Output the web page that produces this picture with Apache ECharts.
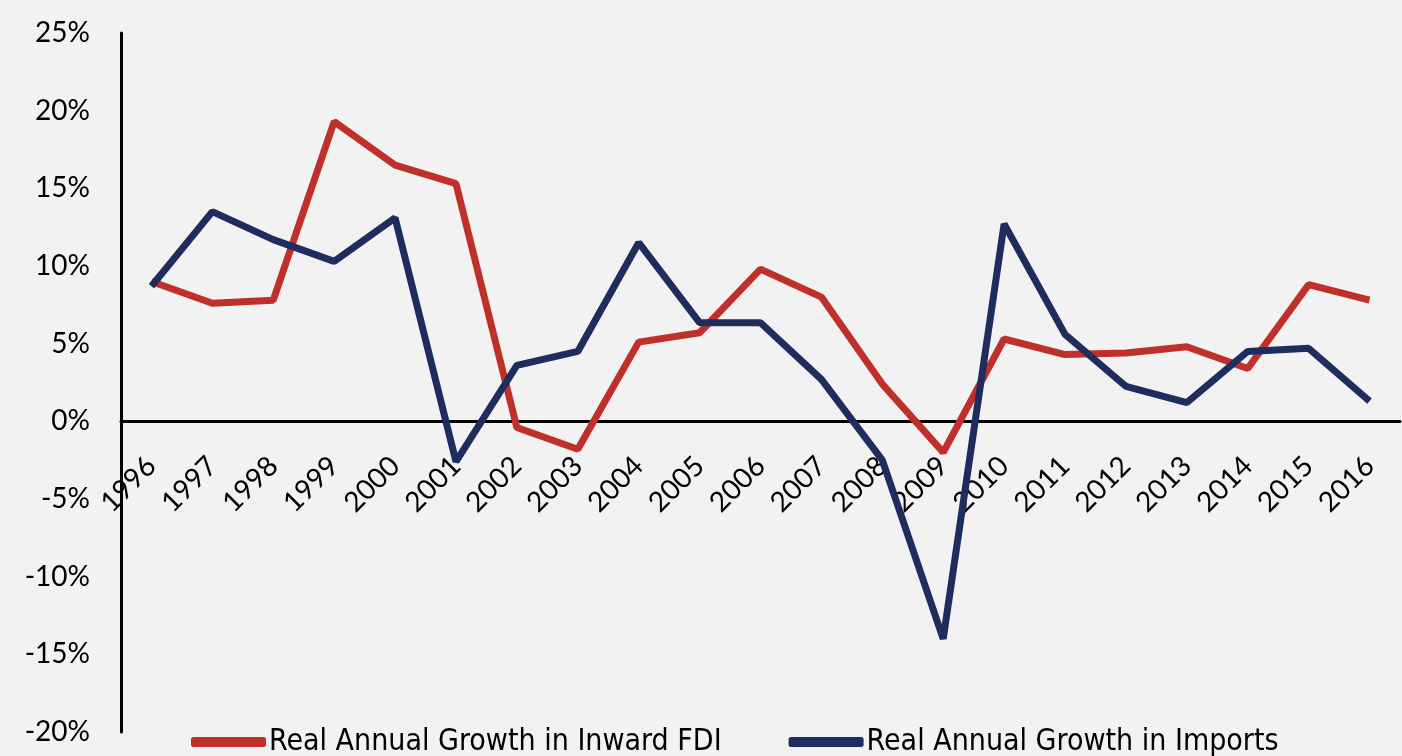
<!DOCTYPE html>
<html>
<head>
<meta charset="utf-8">
<script src="https://cdn.jsdelivr.net/npm/echarts@6/dist/echarts.min.js"></script>
<style>
  html, body { margin: 0; padding: 0; background: #f2f2f2; }
  #main { width: 1402px; height: 756px; }
</style>
</head>
<body>
<div id="main"></div>
<script>
// chart data
var years = ['1996', '1997', '1998', '1999', '2000', '2001', '2002', '2003', '2004', '2005', '2006',
    '2007', '2008', '2009', '2010', '2011', '2012', '2013', '2014', '2015', '2016'];
var fdiGrowth = [9.0, 7.6, 7.8, 19.3, 16.5, 15.3, -0.4, -1.8, 5.1, 5.7, 9.8,
    8.0, 2.4, -2.0, 5.3, 4.3, 4.4, 4.8, 3.4, 8.8, 7.8];
var importsGrowth = [8.7, 13.5, 11.7, 10.3, 13.1, -2.6, 3.6, 4.5, 11.5, 6.35, 6.35,
    2.7, -2.5, -14.0, 12.7, 5.6, 2.25, 1.2, 4.5, 4.7, 1.3];
var seriesNames = ['Real Annual Growth in Inward FDI', 'Real Annual Growth in Imports'];

function displayChart() {
    var chartDom = document.getElementById('main');
    var myChart = echarts.init(chartDom);
    var gridTop = 33, gridBottom = 24;
    var plotH = 756 - gridTop - gridBottom;
    // x axis sits on the 0% line: offset up from the grid bottom
    var zeroOffset = -(plotH * 20 / 45);
    var option = {
        backgroundColor: '#f2f2f2',
        animation: false,
        grid: { left: 121, right: 2, top: gridTop, bottom: gridBottom, outerBoundsMode: 'none', containLabel: false },
        legend: {
            top: 722,
            left: 186,
            itemWidth: 75,
            itemHeight: 10,
            itemGap: 67,
            icon: 'roundRect',
            textStyle: {
                fontFamily: '"Liberation Sans Narrow", "DejaVu Sans Condensed", "Roboto Condensed", sans-serif',
                fontSize: 30,
                color: '#000',
                padding: [0, 0, 0, -2]
            },
            data: seriesNames
        },
        xAxis: {
            type: 'category',
            data: years,
            boundaryGap: true,
            offset: zeroOffset,
            axisLine: { onZero: false, lineStyle: { color: '#000', width: 3 } },
            axisTick: { show: false },
            axisLabel: {
                rotate: 45,
                margin: 40,
                fontFamily: 'Lato',
                fontSize: 28,
                color: '#000'
            }
        },
        yAxis: {
            type: 'value',
            min: -20,
            max: 25,
            interval: 5,
            splitLine: { show: false },
            axisTick: { show: false },
            axisLine: { show: true, onZero: false, lineStyle: { color: '#000', width: 3 } },
            axisLabel: {
                margin: 31,
                fontFamily: 'Lato',
                fontSize: 28,
                color: '#000',
                formatter: '{value}%'
            }
        },
        series: [
            {
                name: seriesNames[0],
                type: 'line',
                data: fdiGrowth,
                symbol: 'none',
                color: '#c0302a',
                lineStyle: { width: 7, color: '#c0302a' }
            },
            {
                name: seriesNames[1],
                type: 'line',
                data: importsGrowth,
                symbol: 'none',
                color: '#1f2d5e',
                lineStyle: { width: 7, color: '#1f2d5e' }
            }
        ]
    };
    myChart.setOption(option);
}
displayChart();
</script>
</body>
</html>
